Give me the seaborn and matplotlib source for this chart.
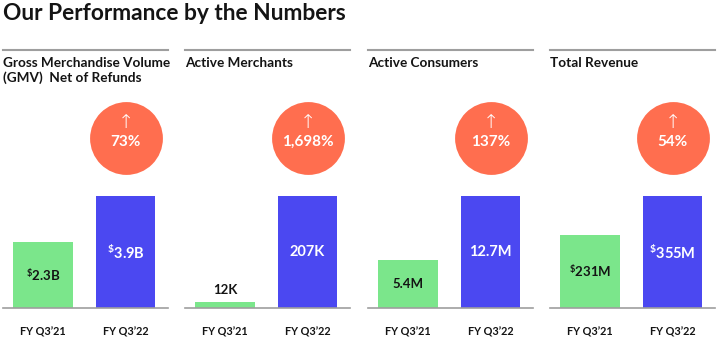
import matplotlib
matplotlib.use("Agg")
import matplotlib.pyplot as plt
import seaborn as sns
import pandas as pd

metrics = ["Gross Merchandise Volume\n(GMV)  Net of Refunds", "Active Merchants",
           "Active Consumers", "Total Revenue"]
periods = ["FY Q3\u201921", "FY Q3\u201922"]
values_q321 = [2.3, 12, 5.4, 231]
values_q322 = [3.9, 207, 12.7, 355]
labels_q321 = [r"$^{\$}$2.3B", "12K", "5.4M", r"$^{\$}$231M"]
labels_q322 = [r"$^{\$}$3.9B", "207K", "12.7M", r"$^{\$}$355M"]
growth = ["73%", "1,698%", "137%", "54%"]

GREEN = "#7BE68B"
BLUE = "#4B48F1"
ORANGE = "#FF6E4F"
GRAY = "#9E9E9E"
DARK = "#141414"

sns.set_theme(style="white")
plt.rcParams["font.family"] = ["Lato", "DejaVu Sans"]
plt.rcParams["mathtext.fontset"] = "custom"
plt.rcParams["mathtext.rm"] = "Lato:bold"
plt.rcParams["mathtext.bf"] = "Lato:bold"

W, H = 723, 345
fig = plt.figure(figsize=(W / 100, H / 100), dpi=100)

fig.text(3 / W, 1 - 13 / H, "Our Performance by the Numbers", fontsize=16.4,
         fontweight="bold", color=DARK, ha="left", va="center")

lefts = [3, 185, 368, 550]
pw = 165
top_px, base_px = 50, 308
bar_px = 112
circ_px = 170

for i in range(4):
    ax = fig.add_axes([lefts[i] / W, 1 - base_px / H, pw / W, (base_px - top_px) / H])
    df = pd.DataFrame({"period": periods, "value": [values_q321[i], values_q322[i]]})
    sns.barplot(data=df, x="period", y="value", hue="period",
                palette=[GREEN, BLUE], width=0.725, legend=False, ax=ax,
                saturation=1, edgecolor="none")
    top_val = values_q322[i]
    ymax = top_val * (base_px - top_px) / bar_px
    ax.set_ylim(0, ymax)
    ax.set_xlim(-0.485, 1.515)
    ax.set_yticks([])
    ax.set_xlabel("")
    ax.set_ylabel("")
    for s in ["left", "right"]:
        ax.spines[s].set_visible(False)
    ax.spines["top"].set_color(GRAY)
    ax.spines["top"].set_linewidth(1.5)
    ax.spines["bottom"].set_color(GRAY)
    ax.spines["bottom"].set_linewidth(1.2)
    ax.tick_params(axis="x", length=0, pad=13, labelsize=7.8, labelcolor=DARK)
    for t in ax.get_xticklabels():
        t.set_fontweight("bold")

    # panel title
    ax.annotate(metrics[i], xy=(0, 1), xycoords="axes fraction",
                xytext=(0, -5), textcoords="offset points",
                ha="left", va="top", fontsize=9.8, fontweight="bold",
                color=DARK, linespacing=1.25)

    # bar labels
    v0 = values_q321[i]
    if v0 / top_val < 0.15:
        ax.annotate(labels_q321[i], xy=(0, v0), xytext=(0, 4),
                    textcoords="offset points", ha="center", va="bottom",
                    fontsize=9.5, fontweight="bold", color=DARK)
    else:
        ax.text(0, v0 / 2, labels_q321[i], ha="center", va="center",
                fontsize=9.5, fontweight="bold", color=DARK)
    ax.text(1, top_val / 2, labels_q322[i], ha="center", va="center",
            fontsize=10.5, fontweight="bold", color="white")

    # growth circle
    cy = top_val * circ_px / bar_px
    ax.scatter([1], [cy], s=2750, color=ORANGE, zorder=3, linewidths=0, clip_on=False)
    ax.annotate("\u2191", xy=(1, cy), xytext=(0, 11), textcoords="offset points",
                ha="center", va="center", fontsize=14, color="white", zorder=4,
                family=["DejaVu Sans"], fontweight="light")
    ax.annotate(growth[i], xy=(1, cy), xytext=(0, -3), textcoords="offset points",
                ha="center", va="center", fontsize=11, fontweight="bold",
                color="white", zorder=4)

fig.savefig("out.png", dpi=100)
